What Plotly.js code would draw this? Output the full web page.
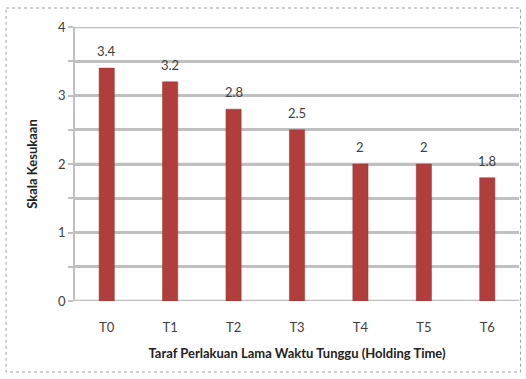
<!DOCTYPE html>
<html><head><meta charset="utf-8">
<script src="https://cdn.plot.ly/plotly-3.0.1.min.js"></script>
<style>html,body{margin:0;padding:0;background:#fff}#c{width:526px;height:379px}</style>
</head><body><div id="c"></div>
<script>
const categories = ["T0","T1","T2","T3","T4","T5","T6"];
const values = [3.4, 3.2, 2.8, 2.5, 2, 2, 1.8];
const valueLabels = ["3.4","3.2","2.8","2.5","2","2","1.8"];
const yTickVals = [0, 0.5, 1, 1.5, 2, 2.5, 3, 3.5, 4];
const yTickText = ["0", "", "1", "", "2", "", "3", "", "4"];

const FONT = 'Lato, "Liberation Sans", sans-serif';
const L = 75, R = 6.5, T = 27, B = 78, W = 526, H = 379;
const pw = W - L - R, ph = H - T - B;
function px(x){return (x - L)/pw;}
function py(y){return (H - B - y)/ph;}

const GRID = '#c0c0c0';
const gridShapes = yTickVals.map(v => ({
  type: 'line', xref: 'paper', yref: 'y', x0: 0, x1: 1, y0: v, y1: v,
  line: {color: GRID, width: 2.5}, layer: 'below'
}));

const labelAnns = categories.map((c, i) => ({
  x: c, y: values[i], xref: 'x', yref: 'y', text: valueLabels[i],
  showarrow: false, yanchor: 'bottom', yshift: 7,
  font: {family: FONT, size: 13, color: '#404040'}
}));

Plotly.newPlot('c', [{
  type: 'bar',
  x: categories,
  y: values,
  width: 0.24,
  marker: {color: '#B03E3D', line: {color: '#9a3432', width: 0.5}},
  hoverinfo: 'none'
}], {
  width: W, height: H,
  margin: {l: L, r: R, t: T, b: B, pad: 0},
  paper_bgcolor: '#fff', plot_bgcolor: '#fff',
  showlegend: false,
  font: {family: FONT, color: '#404040', size: 13},
  xaxis: {
    type: 'category',
    showgrid: false, zeroline: false, showline: false,
    ticks: 'outside', ticklen: 14, tickcolor: 'rgba(0,0,0,0)',
    tickfont: {family: FONT, size: 13, color: '#404040'},
    title: {text: 'Taraf Perlakuan Lama Waktu Tunggu (Holding Time)', font: {family: FONT, size: 13, color: '#222', weight: 'bold'}, standoff: 15}
  },
  yaxis: {
    range: [0, 4], tickmode: 'array', tickvals: yTickVals, ticktext: yTickText,
    showgrid: true, gridcolor: GRID, gridwidth: 2.5,
    zeroline: false,
    showline: true, linecolor: GRID, linewidth: 1.5,
    ticks: 'outside', ticklen: 5, tickcolor: GRID, tickwidth: 1.5,
    tickfont: {family: FONT, size: 13, color: '#404040'},
    title: {text: 'Skala Kesukaan', font: {family: FONT, size: 13, color: '#222', weight: 'bold'}, standoff: 18}
  },
  annotations: labelAnns,
  shapes: gridShapes.concat([{
    type: 'rect', xref: 'paper', yref: 'paper',
    x0: px(6), x1: px(521), y0: py(8), y1: py(372),
    line: {color: '#a0a0a0', width: 1, dash: 'dot'}, fillcolor: 'rgba(0,0,0,0)', layer: 'above'
  }])
}, {displayModeBar: false});
</script></body></html>
